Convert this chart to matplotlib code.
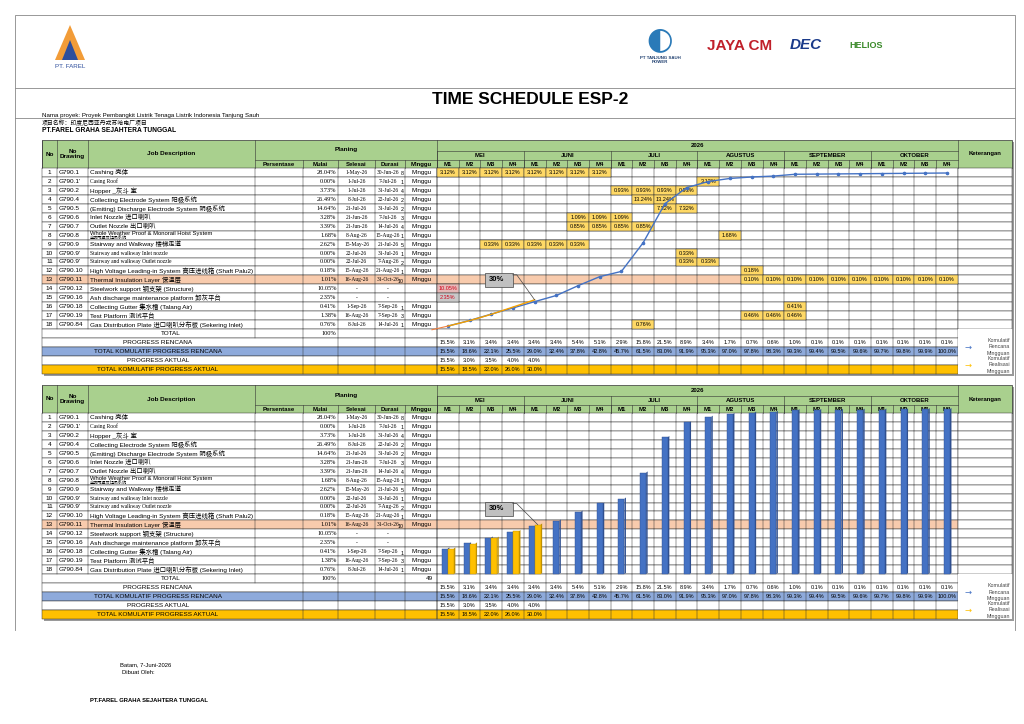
import matplotlib
matplotlib.use('Agg')
import matplotlib.pyplot as plt
from matplotlib.patches import Rectangle, Polygon

FONT = ['Liberation Sans', 'Noto Sans CJK SC', 'DejaVu Sans']
plt.rcParams['font.family'] = FONT

# ---- data ----
nos = list(range(1, 19))
drawings = ["G790.1", "G790.1'", "G790.2", "G790.4", "G790.5", "G790.6", "G790.7", "G790.8",
            "G790.9", "G790.9'", "G790.9'", "G790.10", "G790.11", "G790.12", "G790.16",
            "G790.18", "G790.19", "G790.84"]
jobs = ["Cashing 壳体", "Casing Roof", "Hopper _灰斗 室", "Collecting Electrode System 阳极系统",
        "(Emiting) Discharge Electrode System 阴极系统", "Inlet Nozzle 进口喇叭", "Outlet Nozzle 出口喇叭",
        "Whole Weather Proof & Monorail Hoist System", "Stairway and Walkway 楼梯走道",
        "Stairway and walkway Inlet nozzle", "Stairway and walkway Outlet nozzle",
        "High Voltage Leading-in System 高压进线箱 (Shaft Palu2)", "Thermal Insulation Layer 保温层",
        "Steelwork support 钢支架 (Structure)", "Ash discharge maintenance platform 卸灰平台",
        "Collecting Gutter 集水槽 (Talang Air)", "Test Platform 测试平台",
        "Gas Distribution Plate 进口喇叭分布板 (Sekering Inlet)"]
persen = ["28.04%", "0.00%", "3.73%", "26.49%", "14.64%", "3.28%", "3.39%", "1.68%", "2.62%",
          "0.00%", "0.00%", "0.18%", "1.01%", "10.05%", "2.35%", "0.41%", "1.38%", "0.76%"]
mulai = ["1-May-26", "1-Jul-26", "1-Jul-26", "8-Jul-26", "21-Jul-26", "21-Jun-26", "21-Jun-26",
         "8-Aug-26", "15-May-26", "22-Jul-26", "22-Jul-26", "15-Aug-26", "16-Aug-26", "-", "-",
         "1-Sep-26", "16-Aug-26", "8-Jul-26"]
selesai = ["30-Jun-26", "7-Jul-26", "31-Jul-26", "22-Jul-26", "31-Jul-26", "7-Jul-26", "14-Jul-26",
           "15-Aug-26", "21-Jul-26", "31-Jul-26", "7-Aug-26", "21-Aug-26", "31-Oct-26", "-", "-",
           "7-Sep-26", "7-Sep-26", "14-Jul-26"]
durasi = [8, 1, 4, 2, 2, 3, 4, 1, 5, 1, 2, 1, 10, None, None, 1, 3, 1]
# weekly cells per row: (row index, week index list, label)
week_cells = [
    (0, range(0, 8), "3.12%"), (1, [12], "3.12%"), (2, range(8, 12), "0.93%"),
    (3, [9, 10], "13.24%"), (4, [10, 11], "7.32%"), (5, [6, 7, 8], "1.09%"),
    (6, [6, 7, 8, 9], "0.85%"), (7, [13], "1.68%"), (8, [2, 3, 4, 5, 6], "0.33%"),
    (9, [11], "0.33%"), (10, [11, 12], "0.33%"), (11, [14], "0.18%"),
    (12, range(14, 24), "0.10%"), (15, [16], "0.41%"), (16, [14, 15, 16], "0.46%"),
    (17, [9], "0.76%"),
]
months = ["MEI", "JUNI", "JULI", "AGUSTUS", "SEPTEMBER", "OKTOBER"]
plan_week = [15.5, 3.1, 3.4, 3.4, 3.4, 3.4, 5.4, 5.1, 2.9, 15.8, 21.5, 8.9,
             3.4, 1.7, 0.7, 0.6, 1.0, 0.1, 0.1, 0.1, 0.1, 0.1, 0.1, 0.1]
plan_cum = [15.5, 18.6, 22.1, 25.5, 29.0, 32.4, 37.8, 42.8, 45.7, 61.5, 83.0, 91.9,
            95.3, 97.0, 97.8, 98.3, 99.3, 99.4, 99.5, 99.6, 99.7, 99.8, 99.9, 100.0]
act_week = [15.5, 3.0, 3.5, 4.0, 4.0]
act_cum = [15.5, 18.5, 22.0, 26.0, 30.0]

# ---- layout ----
cols = [42, 57, 88, 255, 303, 338, 375, 405, 437]
W0, WW = 437, 21.7
KET = 1012
NW = 24
GREEN = '#a9d08e'
CELL = '#ffd966'
BLUE = '#4472c4'
YEL = '#ffc000'

fig = plt.figure(figsize=(10.24, 7.24), dpi=100)
ax = fig.add_axes([0, 0, 1, 1])
ax.set_xlim(0, 1024)
ax.set_ylim(724, 0)
ax.axis('off')


def rect(x0, y0, x1, y1, fc='none', ec='#333333', lw=0.4, z=1):
    ax.add_patch(Rectangle((x0, y0), x1 - x0, y1 - y0, fc=fc, ec=ec, lw=lw, zorder=z))


def txt(x, y, s, size=4.6, ha='center', **kw):
    ax.text(x, y, s, fontsize=size, ha=ha, va='center', **kw)


def wx(i):
    return W0 + i * WW


def draw_table(top, mode):
    h1, h2, h3 = top + 11, top + 20, top + 28
    rh = 8.95
    rows_top = h3
    # shadow
    ax.add_patch(Rectangle((cols[0] + 2, top + 2), KET - cols[0], 28 + 23 * rh,
                           fc='#9a9a9a', ec='none', zorder=0))
    # header
    rect(cols[0], top, KET, h3, fc=GREEN, lw=0.5)
    for c in cols:
        ax.plot([c, c], [top if c in (cols[0], cols[1], cols[2], cols[3], cols[8]) else h2, h3],
                color='#333', lw=0.4)
    ax.plot([cols[3], cols[8]], [h2, h2], color='#333', lw=0.4)
    ax.plot([cols[8], wx(NW)], [h1, h1], color='#333', lw=0.4)
    ax.plot([cols[8], wx(NW)], [h2, h2], color='#333', lw=0.4)
    ax.plot([wx(NW), wx(NW)], [top, h3], color='#333', lw=0.4)
    txt(49.5, (top + h3) / 2, "No", weight='bold')
    txt(72.5, (top + h3) / 2, "No\nDrawing", weight='bold', linespacing=1.2)
    txt(171, (top + h3) / 2, "Job Description", weight='bold')
    txt(346, (top + h2) / 2, "Planing", weight='bold')
    for c0, c1, s in zip(cols[3:8], cols[4:9], ["Persentase", "Mulai", "Selesai", "Durasi", "Minggu"]):
        txt((c0 + c1) / 2, (h2 + h3) / 2 + 0.5, s, weight='bold', size=4.3)
    txt((wx(0) + wx(NW)) / 2, (top + h1) / 2, "2026", weight='bold', size=4.3)
    for m, name in enumerate(months):
        ax.plot([wx(4 * m), wx(4 * m)], [h1, h3], color='#333', lw=0.4)
        txt(wx(4 * m + 2), (h1 + h2) / 2, name, weight='bold', size=4.3)
        for k in range(4):
            txt(wx(4 * m + k + 0.5), (h2 + h3) / 2 + 0.5, f"M{k + 1}", weight='bold', size=4.3)
            ax.plot([wx(4 * m + k), wx(4 * m + k)], [h2, h3], color='#333', lw=0.4)
    txt((wx(NW) + KET) / 2, (top + h3) / 2, "Keterangan", weight='bold', size=4.3)

    # data rows
    for r in range(18):
        y0 = rows_top + r * rh
        y1 = y0 + rh
        fc = '#f8cbad' if r == 12 else 'white'
        rect(cols[0], y0, wx(NW), y1, fc=fc, lw=0.35)
        rect(wx(NW), y0, KET, y1, fc='white', lw=0.35)
        for c in cols[1:]:
            ax.plot([c, c], [y0, y1], color='#333', lw=0.35)
        for i in range(NW):
            ax.plot([wx(i), wx(i)], [y0, y1], color='#333', lw=0.35)
        yc = (y0 + y1) / 2
        txt(49.5, yc, str(nos[r]))
        txt(59, yc, drawings[r], ha='left')
        if r == 7:
            txt(90, yc - 2, jobs[r], ha='left', size=4.2)
            txt(90, yc + 2.3, "全防雨罩及起吊系统", ha='left', size=3.0)
        else:
            small = r in (1, 9, 10)
            txt(90, yc, jobs[r], ha='left', size=4.0 if small else 4.6,
                family=['Liberation Serif', 'Noto Sans CJK SC'] if small else FONT)
        txt(cols[5] - 1.5, yc, persen[r], ha='right', family=['Liberation Serif'], size=4.6)
        txt((cols[5] + cols[6]) / 2, yc, mulai[r], family=['Liberation Serif'], size=4.0)
        txt((cols[6] + cols[7]) / 2 - 2, yc, selesai[r], family=['Liberation Serif'], size=4.0)
        if durasi[r] is not None:
            txt(cols[7] - 1.2, yc + 1.3, str(durasi[r]), ha='right', size=3.8)
            txt((cols[7] + cols[8]) / 2, yc, "Minggu", size=4.4)
        if mode == 'line':
            for rr, weeks, lab in week_cells:
                if rr == r:
                    for w in weeks:
                        rect(wx(w), y0, wx(w + 1), y1, fc=CELL, lw=0.35, z=2)
                        txt(wx(w + 0.5), yc, lab, size=4.0, zorder=3)
            if r in (13, 14):
                rect(wx(0), y0, wx(1), y1, fc='#c9c9c9' if r == 14 else '#e6b8b7', lw=0.35, z=2)
                txt(wx(0.5), yc, persen[r], size=4.0, color='#d0021b', zorder=3)
    # summary rows
    y = rows_top + 18 * rh
    specs = [("TOTAL", 'white', None), ("PROGRESS RENCANA", 'white', plan_week),
             ("TOTAL KOMULATIF PROGRESS RENCANA", '#8eaadb', plan_cum),
             ("PROGRESS AKTUAL", 'white', act_week),
             ("TOTAL KOMULATIF PROGRESS AKTUAL", YEL, act_cum)]
    for k, (lab, fc, vals) in enumerate(specs):
        y0, y1 = y + k * rh, y + (k + 1) * rh
        yc = (y0 + y1) / 2
        rect(cols[0], y0, wx(NW), y1, fc=fc, lw=0.35)
        rect(wx(NW), y0, KET, y1, fc='white', ec='none', lw=0)
        for c in cols[4:]:
            ax.plot([c, c], [y0, y1], color='#333', lw=0.35)
        for i in range(NW):
            ax.plot([wx(i), wx(i)], [y0, y1], color='#333', lw=0.35)
        if k == 0:
            ax.plot([cols[3], cols[3]], [y0, y1], color='#333', lw=0.35)
            txt(171, yc, lab)
            txt(cols[5] - 1.5, yc, "100%", ha='right', family=['Liberation Serif'])
            if mode == 'bar':
                txt(cols[8] - 4, yc, "49", ha='right')
        else:
            txt(cols[4] - 145, yc, lab, size=4.6)
        if vals is not None:
            for i, v in enumerate(vals):
                txt(wx(i + 0.5), yc, f"{v:.1f}%", size=4.0)
    # keterangan legend
    y0 = y + rh
    for k, (c, lines) in enumerate([(BLUE, "Komulatif\nRencana\nMingguan"),
                                     (YEL, "Komulatif\nRealisasi\nMingguan")]):
        ym = y0 + rh * (2 * k + 1)
        txt(wx(NW) + 10, ym, "→", size=6, color=c, family=['DejaVu Sans'])
        txt(KET - 2, ym, lines, ha='right', size=3.8, linespacing=1.3, color='#444')
    # chart
    base_y = rows_top + 18 * rh
    xs = [wx(i + 0.5) for i in range(NW)]
    if mode == 'line':
        top_y, bot_y = rows_top + 5, base_y - 3
        to_y = lambda v: bot_y - (v - 15.5) / 84.5 * (bot_y - top_y)
        ax.plot(xs, [to_y(v) for v in plan_cum], color=BLUE, lw=1.0, marker='o', ms=1.6, zorder=5)
        ax.plot(xs[:5], [to_y(v) for v in act_cum], color='#f4a000', lw=1.0, zorder=6)
        ax.plot([cols[8] - 5, xs[0]], [to_y(13.5), to_y(15.5)], color='#f08040', lw=0.8, zorder=6)
        px, py = xs[4], to_y(act_cum[4])
    else:
        bot_y = base_y
        to_y = lambda v: bot_y - v / 100 * 165
        bw = 6.0
        for i, v in enumerate(plan_cum):
            x = xs[i] - (bw if i < 5 else bw / 2)
            ax.add_patch(Polygon([(x + bw, to_y(v)), (x + bw + 1.5, to_y(v) - 1.2),
                                  (x + bw + 1.5, bot_y - 1.2), (x + bw, bot_y)],
                                 fc='#2f4f8f', ec='none', zorder=5))
            ax.add_patch(Rectangle((x, to_y(v)), bw, bot_y - to_y(v), fc=BLUE, ec='#2f4f8f',
                                   lw=0.3, zorder=5))
        for i, v in enumerate(act_cum):
            x = xs[i]
            ax.add_patch(Polygon([(x + bw, to_y(v)), (x + bw + 1.5, to_y(v) - 1.2),
                                  (x + bw + 1.5, bot_y - 1.2), (x + bw, bot_y)],
                                 fc='#bf9000', ec='none', zorder=5))
            ax.add_patch(Rectangle((x, to_y(v)), bw, bot_y - to_y(v), fc=YEL, ec='#bf9000',
                                   lw=0.3, zorder=5))
        px, py = xs[4] + bw / 2, to_y(act_cum[4])
    bx0, by0 = wx(2.2), py - 27 if mode == 'line' else py - 23
    rect(bx0, by0, bx0 + 28, by0 + 14, fc='#c0c0c0', ec='#444', lw=0.5, z=7)
    txt(bx0 + 12, by0 + 7, "30%", size=5.5, weight='bold', zorder=8)
    ax.plot([bx0 + 28, bx0 + 32, px], [by0 + 2, by0 + 2, py], color='#444', lw=0.5, zorder=7)


# ---- page header ----
rect(15, 15, 1015, 88, ec='#888', lw=0.6)
ax.plot([15, 1015], [118, 118], color='#888', lw=0.6)
ax.plot([15, 15], [88, 630], color='#888', lw=0.6)
ax.plot([1015, 1015], [88, 630], color='#888', lw=0.6)
ax.add_patch(Polygon([(55, 60), (70, 25), (85, 60)], fc='#f29c38', ec='none'))
ax.add_patch(Polygon([(62, 60), (70, 40), (78, 60)], fc='#2e4e9c', ec='none'))
txt(70, 67, "PT. FAREL", size=4.5, color='#2e4e9c')
txt(660, 40, "◐", size=22, color='#2a7ab8', family=['DejaVu Sans'])
txt(660, 60, "PT TANJUNG SAUH\nPOWER", size=3.2, weight='bold', color='#204070', linespacing=1.1)
txt(740, 46, "JAYA CM", size=11, weight='bold', color='#c0202a')
txt(806, 45, "DEC", size=11, weight='bold', color='#1a3a8a', style='italic')
txt(866, 45, "HELIOS", size=6.5, weight='bold', color='#3a8a2a')
txt(530, 100, "TIME SCHEDULE ESP-2", size=12.5, weight='bold')
txt(42, 115.5, "Nama proyek: Proyek Pembangkit Listrik Tenaga Listrik Indonesia Tanjung Sauh", ha='left', size=4.4)
txt(42, 123, "项目名称：印度尼西亚丹戎苏哈电厂项目", ha='left', size=4.2)
txt(42, 131, "PT.FAREL GRAHA SEJAHTERA TUNGGAL", ha='left', size=4.8, weight='bold')

draw_table(140, 'line')
draw_table(385, 'bar')

txt(120, 665, "Batam, 7-Juni-2026", ha='left', size=4.2)
txt(122, 673, "Dibuat Oleh:", ha='left', size=4.2)
txt(90, 701, "PT.FAREL GRAHA SEJAHTERA TUNGGAL", ha='left', size=4.2, weight='bold')

fig.savefig("out.png", dpi=100)
